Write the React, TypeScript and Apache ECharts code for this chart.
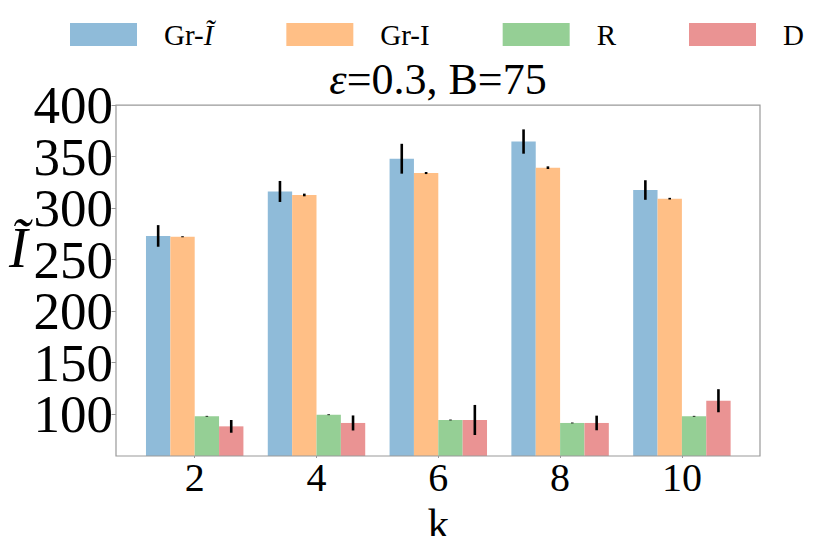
import React, { useEffect, useRef } from "react";
import * as echarts from "echarts";

const categories = ["2", "4", "6", "8", "10"];
const seriesNames = ["Gr-Ĩ", "Gr-I", "R", "D"];
const grTildeValues = [273.0, 316.2, 348.0, 364.7, 317.6];
const grTildeErrors = [10.5, 10.2, 14.5, 11.8, 9.5];
const grIValues = [272.2, 312.8, 334.1, 339.3, 309.2];
const grIErrors = [0.5, 1.3, 1.0, 1.3, 0.8];
const rValues = [97.8, 99.3, 94.2, 91.3, 97.8];
const rErrors = [0.4, 0.4, 0.4, 0.4, 0.4];
const dValues = [88.0, 91.3, 94.2, 91.3, 112.9];
const dErrors = [6.2, 7.3, 14.6, 7.1, 11.2];
const colors = ["#8fbbd9", "#ffbf86", "#95cf95", "#ea9393"];

const FONT = "'Liberation Serif', 'Times New Roman', serif";

export default function App() {
  const ref = useRef<HTMLDivElement>(null);
  useEffect(() => {
    document.body.style.margin = "0";
    if (!ref.current) return;
    const chart = echarts.init(ref.current, undefined, { renderer: "svg" });
    const allValues = [grTildeValues, grIValues, rValues, dValues];
    const allErrors = [grTildeErrors, grIErrors, rErrors, dErrors];

    const barSeries = seriesNames.map((name, i) => ({
      name,
      type: "bar",
      data: allValues[i],
      barWidth: "20%",
      barGap: "0%",
      itemStyle: { color: colors[i] },
      z: 2,
    }));

    const errSeries = seriesNames.map((name, i) => ({
      type: "custom",
      name: name + "-err",
      z: 5,
      data: allValues[i].map((v, k) => [k, v, allErrors[i][k]]),
      renderItem: (params: any, api: any) => {
        const cat = api.value(0);
        const v = api.value(1);
        const e = api.value(2);
        const band = api.size([1, 0])[0];
        const x = api.coord([cat, v])[0] + (i - 1.5) * band * 0.2;
        const top = api.coord([cat, v + e])[1];
        const bot = api.coord([cat, v - e])[1];
        return {
          type: "line",
          shape: { x1: x, y1: top, x2: x, y2: bot },
          style: { stroke: "#000", lineWidth: 2.6 },
        };
      },
    }));

    chart.setOption({
      animation: false,
      title: {
        text: "{e|ε}=0.3, B=75",
        left: 438,
        top: 57,
        padding: 0,
        textAlign: "center",
        textStyle: {
          fontFamily: FONT,
          fontSize: 44,
          fontWeight: "normal",
          color: "#000",
          lineHeight: 44,
          rich: {
            e: { fontFamily: FONT, fontSize: 44, fontStyle: "italic", color: "#000", lineHeight: 44 },
          },
        },
      },
      legend: {
        data: seriesNames,
        left: 70,
        top: 20,
        padding: 0,
        itemWidth: 67,
        itemHeight: 23,
        itemGap: 73,
        icon: "rect",
        formatter: (name: string) => (name === "Gr-Ĩ" ? "Gr-{i|Ĩ}" : name),
        textStyle: {
          fontFamily: FONT,
          fontSize: 29,
          color: "#000",
          lineHeight: 23,
          padding: [0, 0, 0, 22],
          rich: {
            i: { fontFamily: FONT, fontSize: 29, fontStyle: "italic", color: "#000", lineHeight: 23 },
          },
        },
      },
      grid: {
        left: 133.8,
        right: 87.2,
        top: 105.2,
        bottom: 80,
        containLabel: false,
        outerBoundsMode: "none",
      },
      xAxis: {
        type: "category",
        data: categories,
        name: "k",
        nameLocation: "middle",
        nameGap: 58,
        nameTextStyle: {
          fontFamily: FONT,
          fontSize: 43,
          color: "#000",
          verticalAlign: "middle",
          lineHeight: 36,
        },
        axisLine: { show: false },
        axisTick: { show: true, alignWithLabel: true, length: 2, lineStyle: { color: "#999" } },
        axisLabel: {
          fontFamily: FONT,
          fontSize: 40,
          color: "#000",
          margin: 1,
          lineHeight: 40,
        },
      },
      yAxis: {
        type: "value",
        min: 59.2,
        max: 400.001,
        splitNumber: 7,
        offset: 17.8,
        name: "Ĩ",
        nameLocation: "middle",
        nameRotate: 0,
        nameGap: 84,
        nameTextStyle: {
          fontFamily: FONT,
          fontSize: 56,
          fontStyle: "italic",
          color: "#000",
          align: "center",
          verticalAlign: "bottom",
          lineHeight: 65,
        },
        axisLine: { show: false },
        axisTick: { show: true, length: 4.5, lineStyle: { color: "#999" } },
        splitLine: { show: false },
        axisLabel: {
          fontFamily: FONT,
          fontSize: 53,
          color: "#000",
          margin: 3,
          lineHeight: 44,
          hideOverlap: false,
          showMinLabel: false,
          showMaxLabel: false,
        },
      },
      graphic: [
        {
          type: "rect",
          z: 10,
          silent: true,
          shape: { x: 116, y: 105.2, width: 644, height: 350.8 },
          style: { fill: "none", stroke: "#999", lineWidth: 1.2 },
        },
      ],
      series: [...barSeries, ...errSeries],
    });
    return () => chart.dispose();
  }, []);
  return <div ref={ref} style={{ width: 830, height: 536 }} />;
}
